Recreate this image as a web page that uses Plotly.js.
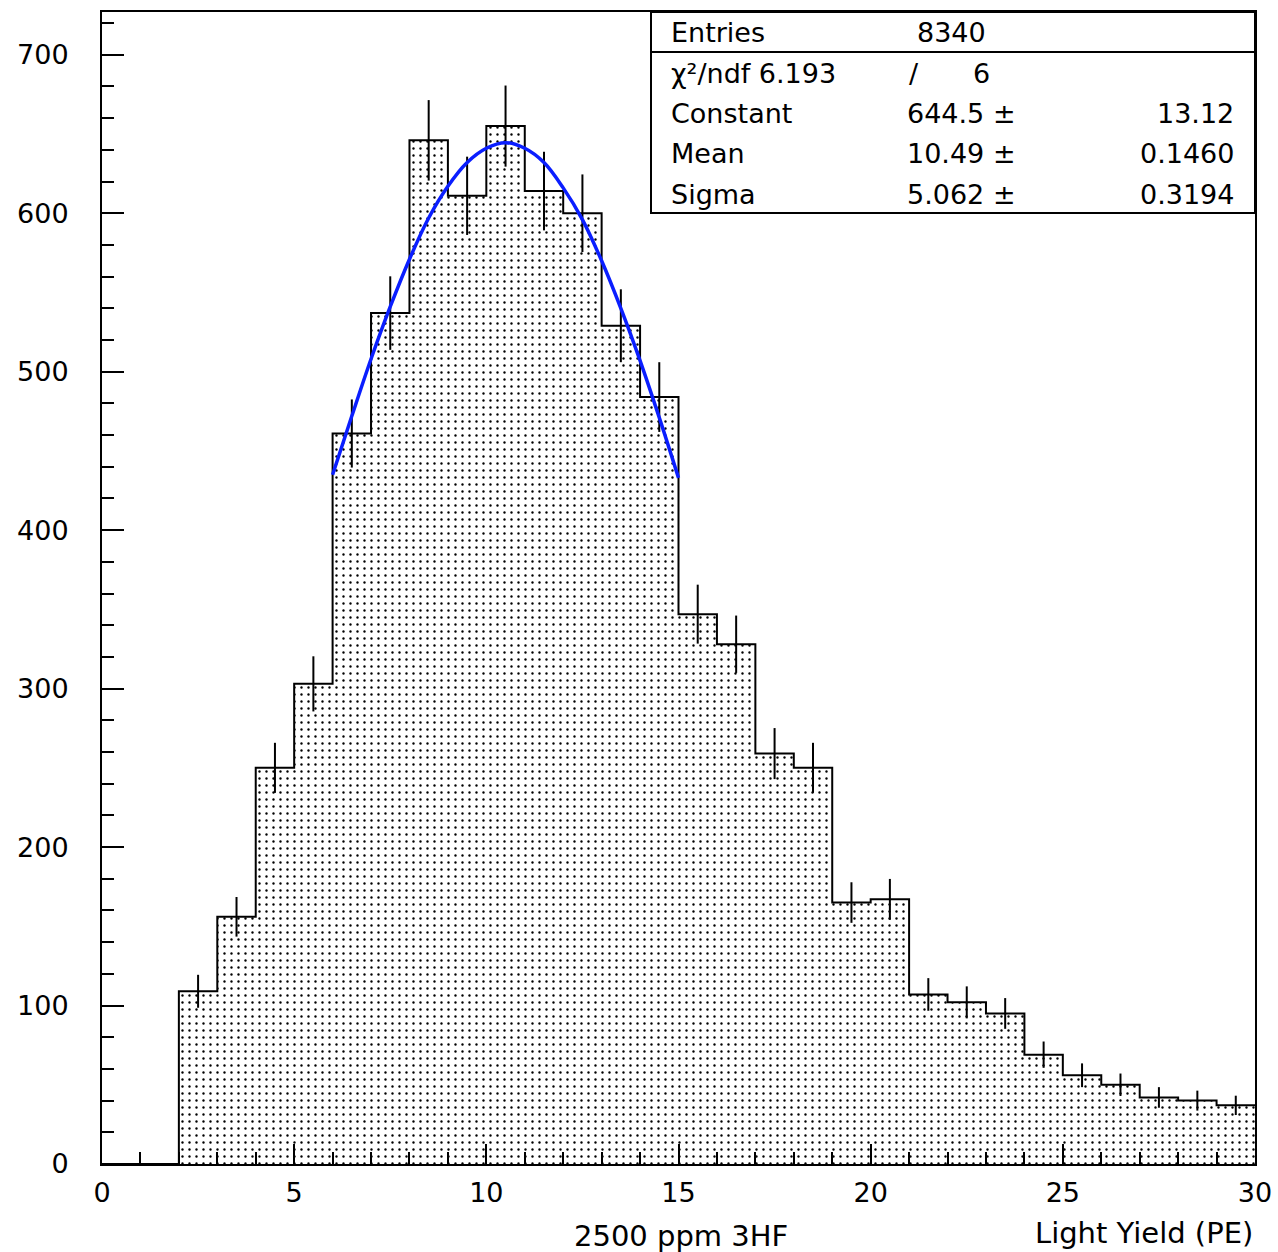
<!DOCTYPE html>
<html>
<head>
<meta charset="utf-8">
<script src="https://cdn.plot.ly/plotly-3.0.1.min.js"></script>
<style>html,body{margin:0;padding:0;background:#fff;}</style>
</head>
<body>
<div id="chart" style="width:1278px;height:1252px;"></div>
<script>
// Histogram: 1 PE bins from 0 to 30
const binCenters = [0.5,1.5,2.5,3.5,4.5,5.5,6.5,7.5,8.5,9.5,10.5,11.5,12.5,13.5,14.5,15.5,16.5,17.5,18.5,19.5,20.5,21.5,22.5,23.5,24.5,25.5,26.5,27.5,28.5,29.5];
const counts = [0,0,109,156,250,303,461,537,646,611,655,614,600,529,484,347,328,259,250,165,167,107,102,95,69,56,50,42,40,37];
const errors = [0,0,10.4,12.5,15.8,17.4,21.5,23.2,25.4,24.7,25.6,24.8,24.5,23.0,22.0,18.6,18.1,16.1,15.8,12.8,12.9,10.3,10.1,9.7,8.3,7.5,7.1,6.5,6.3,6.1];
const binEdges = [0,1,2,3,4,5,6,7,8,9,10,11,12,13,14,15,16,17,18,19,20,21,22,23,24,25,26,27,28,29,30];

// Gaussian fit curve
const fitX = [6,6.5,7,7.5,8,8.5,9,9.5,10,10.5,11,11.5,12,12.5,13,13.5,14,14.5,15];
const fitY = [435,472,508,541,571,597,617,632,641,644.5,641,632,616,596,570,540,507,471,433];

// Stats box
const statLabels = ["Entries","χ²/ndf 6.193","Constant","Mean","Sigma"];
const statValues = ["8340","/","644.5 ±","10.49 ±","5.062 ±"];
const statErrors = ["","6","13.12","0.1460","0.3194"];

const xTitle = "2500 ppm 3HF";
const xLabel = "Light Yield (PE)";

const FONT = "DejaVu Sans, Verdana, sans-serif";
const FS = 27;

const stepY = counts.concat([counts[counts.length-1]]);
const errIdx = counts.map((c,i)=>i).filter(i=>counts[i]>0);

const traces = [
  {
    type:'bar', x:binCenters, y:counts, width:1,
    marker:{color:'white', line:{width:0},
      pattern:{shape:'.', fgcolor:'black', bgcolor:'white', size:7, solidity:0.09}},
    hoverinfo:'skip', showlegend:false
  },
  {
    type:'scatter', mode:'lines', x:binEdges, y:stepY,
    line:{shape:'hv', color:'black', width:2},
    hoverinfo:'skip', showlegend:false
  },
  {
    type:'scatter', mode:'markers',
    x:errIdx.map(i=>binCenters[i]), y:errIdx.map(i=>counts[i]),
    marker:{size:1, color:'black', opacity:0},
    error_y:{type:'data', array:errIdx.map(i=>errors[i]), visible:true, width:0, thickness:2, color:'black'},
    hoverinfo:'skip', showlegend:false
  },
  {
    type:'scatter', mode:'lines', x:fitX, y:fitY,
    line:{color:'#0a1eff', width:3.5, shape:'spline'},
    hoverinfo:'skip', showlegend:false
  }
];

// paper coordinate helpers (plot area: x 102..1255, y 12..1164)
const L=102, R=1255, T=12, B=1164;
const px = x => (x-L)/(R-L);
const py = y => (B-y)/(B-T);

const shapes = [
  {type:'rect', xref:'paper', yref:'paper', x0:px(651), x1:px(1255), y0:py(213), y1:py(12),
   line:{color:'black', width:2}, fillcolor:'white', layer:'above'},
  {type:'line', xref:'paper', yref:'paper', x0:px(651), x1:px(1255), y0:py(52), y1:py(52),
   line:{color:'black', width:2}, layer:'above'}
];

const rowY = [33,74,114,154,194];
const annotations = [];
statLabels.forEach((t,i)=>{
  annotations.push({xref:'paper', yref:'paper', x:px(669), y:py(rowY[i]), xanchor:'left', yanchor:'middle',
    text:t, showarrow:false, font:{family:FONT, size:FS, color:'black'}});
});
const valX = [915, 907, 905, 905, 905];
statValues.forEach((t,i)=>{
  annotations.push({xref:'paper', yref:'paper', x:px(valX[i]), y:py(rowY[i]), xanchor:'left', yanchor:'middle',
    text:t, showarrow:false, font:{family:FONT, size:FS, color:'black'}});
});
statErrors.forEach((t,i)=>{
  if(!t) return;
  const right = (i===1);
  annotations.push({xref:'paper', yref:'paper', x: right ? px(992) : px(1236), y:py(rowY[i]),
    xanchor:'right', yanchor:'middle',
    text:t, showarrow:false, font:{family:FONT, size:FS, color:'black'}});
});
annotations.push({xref:'paper', yref:'paper', x:px(681), y:py(1236), xanchor:'center', yanchor:'middle',
  text:xTitle, showarrow:false, font:{family:FONT, size:29, color:'black'}});
annotations.push({xref:'paper', yref:'paper', x:1, y:py(1233), xanchor:'right', yanchor:'middle',
  text:xLabel, showarrow:false, font:{family:FONT, size:29, color:'black'}});

const layout = {
  width:1278, height:1252, autosize:false,
  margin:{l:L, r:1278-R, t:T, b:1252-B, pad:0},
  paper_bgcolor:'white', plot_bgcolor:'white',
  bargap:0, showlegend:false,
  font:{family:FONT, size:FS, color:'black'},
  xaxis:{
    range:[0,30], showgrid:false, zeroline:false,
    showline:true, mirror:true, linecolor:'black', linewidth:2,
    ticks:'inside', ticklen:20, tickwidth:2, tickcolor:'black',
    tick0:0, dtick:5, tickfont:{family:FONT, size:FS, color:'black'},
    ticklabelstandoff:4,
    minor:{ticks:'inside', ticklen:12, tickwidth:2, tickcolor:'black', dtick:1, showgrid:false}
  },
  yaxis:{
    range:[0,727], showgrid:false, zeroline:false,
    showline:true, mirror:true, linecolor:'black', linewidth:2,
    ticks:'inside', ticklen:22, tickwidth:2, tickcolor:'black',
    tick0:0, dtick:100, tickfont:{family:FONT, size:FS, color:'black'},
    ticklabelstandoff:26,
    minor:{ticks:'inside', ticklen:12, tickwidth:2, tickcolor:'black', dtick:20, showgrid:false}
  },
  shapes:shapes,
  annotations:annotations
};

Plotly.newPlot('chart', traces, layout, {displayModeBar:false, staticPlot:true});
</script>
</body>
</html>
